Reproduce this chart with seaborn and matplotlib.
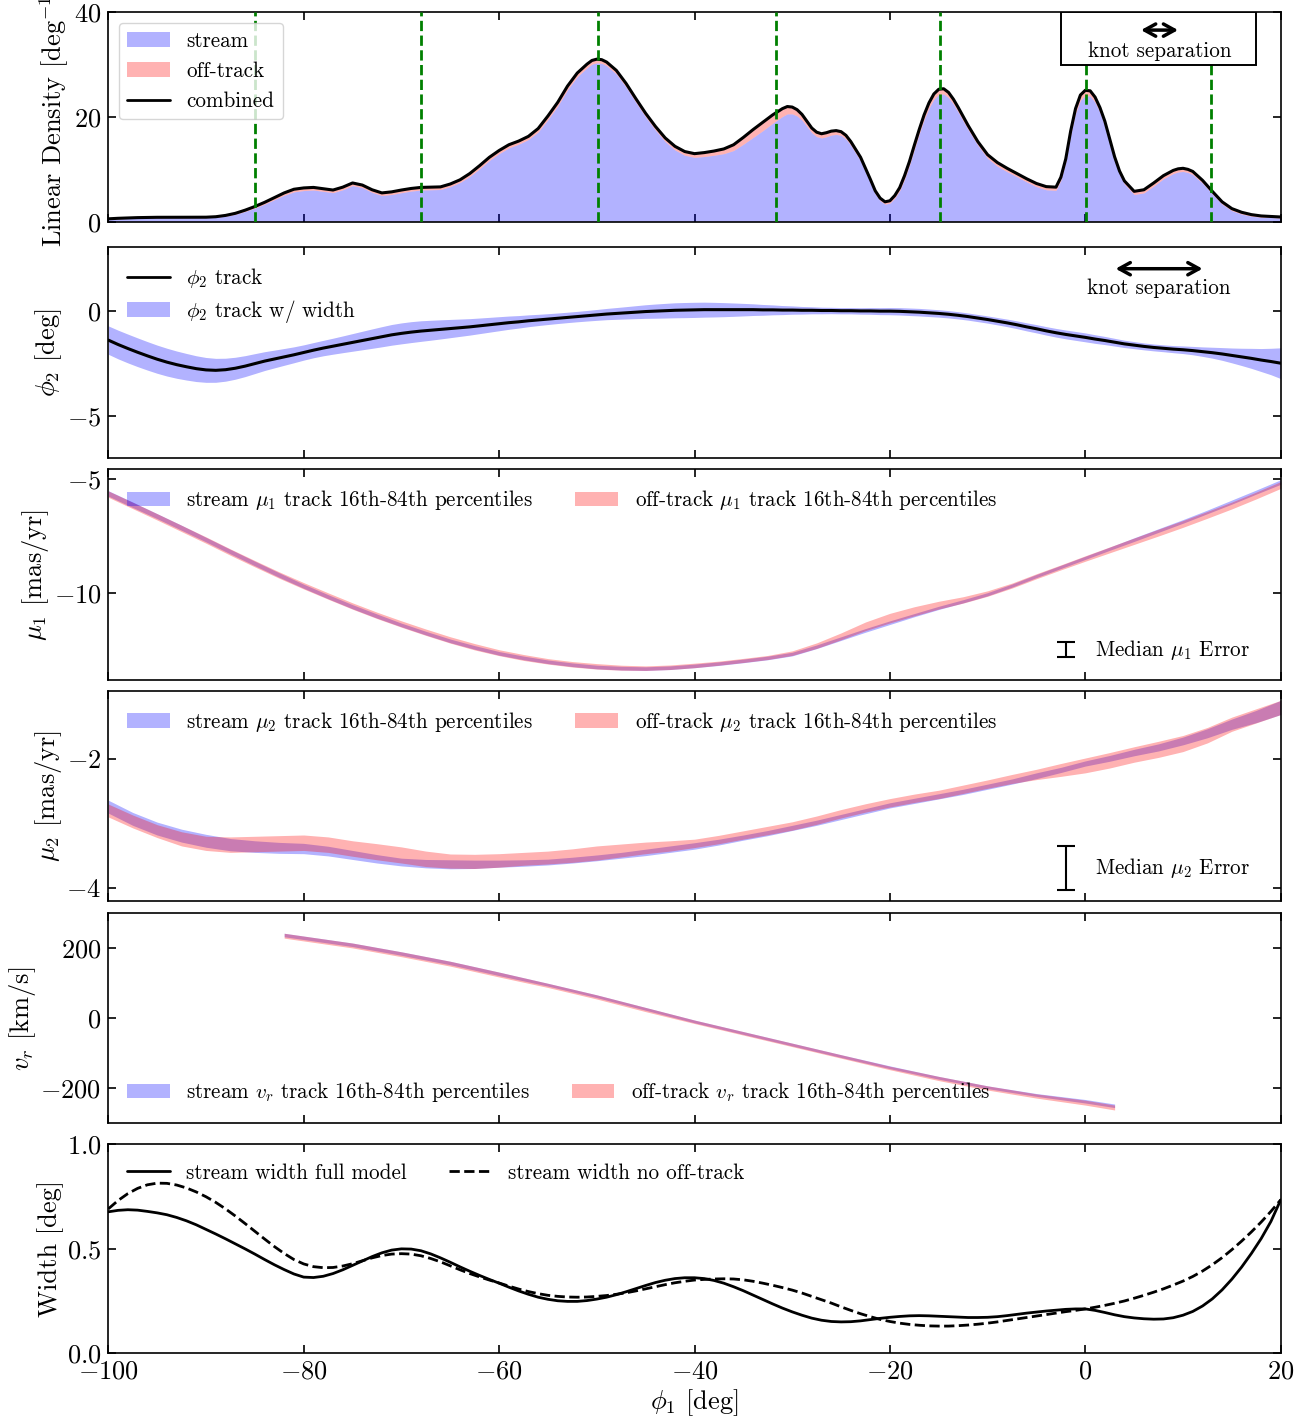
import numpy as np
import matplotlib
matplotlib.use("Agg")
import matplotlib.pyplot as plt
import seaborn as sns
from matplotlib.patches import Patch, Rectangle
from matplotlib.lines import Line2D
from matplotlib.ticker import MultipleLocator

# ---------------------------------------------------------------- data
# linear density (finer sampling around the peaks)
phi1_dens = [
    -100, -99, -98, -97, -96, -95, -94, -93, -92, -91,
    -90, -89, -88, -87, -86, -85, -84, -83, -82, -81,
    -80, -79, -78, -77, -76, -75, -74, -73, -72, -71,
    -70, -69, -68, -67, -66, -65, -64, -63, -62, -61,
    -60, -59, -58, -57, -56, -55, -54, -53, -52,
    -51, -50.5, -50, -49.5, -49,
    -48, -47, -46, -45, -44, -43, -42, -41, -40, -39, -38, -37, -36, -35, -34, -33, -32,
    -31, -30.5, -30, -29.5, -29, -28.5, -28, -27.5, -27, -26.5, -26, -25.5, -25, -24.5, -24,
    -23, -22,
    -21.5, -21, -20.5, -20, -19.5, -19, -18.5, -18, -17.5, -17, -16.5, -16, -15.5, -15,
    -14.5, -14, -13.5, -13,
    -12, -11, -10, -9, -8, -7, -6, -5, -4, -3,
    -2.5, -2, -1.5, -1, -0.5, 0, 0.5, 1, 1.5, 2, 2.5, 3, 3.5, 4,
    5, 6, 7, 8, 9,
    9.5, 10, 10.5, 11,
    12, 13, 14, 15, 16, 17, 18, 19, 20,
]
dens_combined = [
    0.55, 0.65, 0.72, 0.78, 0.82, 0.84, 0.85, 0.85, 0.85, 0.85,
    0.86, 0.95, 1.2, 1.6, 2.2, 2.9, 3.7, 4.6, 5.5, 6.2,
    6.45, 6.55, 6.3, 6.05, 6.6, 7.4, 7.0, 6.1, 5.5, 5.7,
    6.05, 6.35, 6.55, 6.6, 6.65, 7.2, 8.0, 9.2, 10.7, 12.3,
    13.6, 14.7, 15.4, 16.3, 17.8, 20.2, 22.8, 25.9, 28.4,
    30.1, 30.8, 31.05, 30.95, 30.5,
    28.9, 26.4, 23.5, 20.7, 18.2, 16.0, 14.4, 13.4, 13.0, 13.2, 13.5, 13.9, 14.7, 16.1, 17.6, 19.0, 20.4,
    21.6, 22.0, 21.9, 21.4, 20.5, 19.2, 17.9, 17.1, 16.8, 17.0, 17.3, 17.4, 17.2, 16.5, 15.3,
    12.3, 8.1,
    5.9, 4.5, 3.8, 4.0, 5.0, 6.5, 8.8, 11.5, 14.6, 17.6, 20.4, 22.7, 24.4, 25.3,
    25.4, 24.7, 23.4, 21.8,
    18.4, 15.3, 12.8, 11.3, 10.2, 9.2, 8.2, 7.3, 6.7, 6.6,
    8.5, 12.0, 17.3, 21.6, 24.2, 25.1, 25.0, 23.8, 21.8, 19.2, 15.8, 12.4, 9.7, 7.8,
    5.8, 6.1, 7.4, 8.8, 9.8,
    10.1, 10.2, 10.0, 9.6,
    7.9, 5.8, 3.8, 2.5, 1.8, 1.35, 1.1, 1.0, 0.9,
]
dens_offtrack = [
    0.1, 0.1, 0.1, 0.1, 0.1, 0.1, 0.1, 0.1, 0.1, 0.1,
    0.1, 0.12, 0.15, 0.2, 0.25, 0.3, 0.35, 0.4, 0.45, 0.5,
    0.5, 0.5, 0.5, 0.5, 0.5, 0.5, 0.5, 0.5, 0.5, 0.5,
    0.5, 0.5, 0.5, 0.5, 0.5, 0.5, 0.5, 0.55, 0.6, 0.6,
    0.6, 0.6, 0.6, 0.6, 0.65, 0.7, 0.7, 0.7, 0.7,
    0.7, 0.7, 0.7, 0.7, 0.7,
    0.7, 0.7, 0.7, 0.7, 0.7, 0.7, 0.7, 0.7, 0.7, 0.75, 0.8, 0.9, 1.1, 1.3, 1.5, 1.6, 1.6,
    1.5, 1.4, 1.3, 1.2, 1.1, 1.0, 0.9, 0.85, 0.8, 0.78, 0.75, 0.72, 0.7, 0.7, 0.7,
    0.7, 0.7,
    0.6, 0.5, 0.45, 0.45, 0.5, 0.6, 0.7, 0.75, 0.8, 0.85, 0.9, 1.0, 1.0, 1.0,
    1.0, 1.0, 0.95, 0.9,
    0.8, 0.7, 0.7, 0.7, 0.65, 0.6, 0.6, 0.6, 0.6, 0.6,
    0.6, 0.65, 0.75, 0.9, 1.0, 1.0, 1.0, 1.0, 0.95, 0.9, 0.8, 0.7, 0.65, 0.6,
    0.6, 0.6, 0.6, 0.6, 0.6,
    0.6, 0.6, 0.6, 0.6,
    0.55, 0.5, 0.45, 0.4, 0.35, 0.3, 0.25, 0.2, 0.2,
]
knots = [-85.0, -68.0, -49.9, -31.7, -14.9, 0.1, 12.9]

# phi2 track and stream width, every 1 deg from -100 to 20
phi1_track = np.arange(-100, 21, 1)
phi2_track = [
    -1.40, -1.61, -1.80, -1.98, -2.15, -2.31, -2.45, -2.57, -2.67, -2.76,
    -2.82, -2.84, -2.81, -2.74, -2.64, -2.52, -2.40, -2.30, -2.20, -2.10,
    -1.99, -1.88, -1.78, -1.69, -1.60, -1.51, -1.42, -1.33, -1.24, -1.15,
    -1.08, -1.02, -0.97, -0.93, -0.89, -0.85, -0.81, -0.77, -0.72, -0.67,
    -0.62, -0.57, -0.53, -0.48, -0.44, -0.40, -0.36, -0.32, -0.28, -0.24,
    -0.20, -0.16, -0.13, -0.10, -0.07, -0.04, -0.02, 0.00, 0.02, 0.03,
    0.04, 0.05, 0.05, 0.05, 0.05, 0.05, 0.05, 0.04, 0.04, 0.03,
    0.03, 0.02, 0.02, 0.01, 0.01, 0.00, 0.00, -0.01, -0.01, -0.02,
    -0.02, -0.03, -0.05, -0.07, -0.10, -0.13, -0.17, -0.22, -0.28, -0.35,
    -0.42, -0.50, -0.58, -0.67, -0.77, -0.86, -0.96, -1.05, -1.13, -1.20,
    -1.27, -1.35, -1.42, -1.50, -1.58, -1.64, -1.70, -1.75, -1.79, -1.83,
    -1.86, -1.90, -1.95, -2.00, -2.06, -2.13, -2.20, -2.27, -2.35, -2.42,
    -2.50,
]
width_full = [
    0.676, 0.683, 0.686, 0.684, 0.678, 0.671, 0.662, 0.649, 0.633, 0.614,
    0.592, 0.570, 0.547, 0.523, 0.499, 0.474, 0.448, 0.423, 0.400, 0.379,
    0.364, 0.362, 0.368, 0.381, 0.399, 0.420, 0.441, 0.462, 0.480, 0.493,
    0.499, 0.498, 0.490, 0.475, 0.456, 0.435, 0.413, 0.392, 0.372, 0.353,
    0.335, 0.316, 0.298, 0.282, 0.268, 0.258, 0.251, 0.248, 0.248, 0.252,
    0.259, 0.268, 0.280, 0.294, 0.309, 0.324, 0.338, 0.349, 0.357, 0.361,
    0.361, 0.357, 0.348, 0.335, 0.318, 0.299, 0.278, 0.257, 0.236, 0.216,
    0.198, 0.182, 0.168, 0.158, 0.152, 0.150, 0.151, 0.155, 0.161, 0.167,
    0.172, 0.176, 0.179, 0.180, 0.179, 0.177, 0.175, 0.173, 0.171, 0.171,
    0.172, 0.175, 0.180, 0.186, 0.192, 0.197, 0.202, 0.206, 0.210, 0.212,
    0.212, 0.205, 0.195, 0.184, 0.175, 0.169, 0.165, 0.163, 0.164, 0.170,
    0.182, 0.200, 0.226, 0.260, 0.303, 0.354, 0.412, 0.477, 0.548, 0.630,
    0.733,
]
width_no_offtrack = [
    0.690, 0.730, 0.763, 0.788, 0.805, 0.813, 0.812, 0.804, 0.790, 0.771,
    0.748, 0.721, 0.690, 0.656, 0.620, 0.583, 0.546, 0.510, 0.477, 0.448,
    0.427, 0.414, 0.409, 0.410, 0.417, 0.428, 0.442, 0.456, 0.467, 0.474,
    0.476, 0.474, 0.466, 0.453, 0.437, 0.418, 0.399, 0.381, 0.365, 0.350,
    0.336, 0.321, 0.307, 0.295, 0.285, 0.277, 0.272, 0.269, 0.268, 0.269,
    0.272, 0.276, 0.282, 0.289, 0.298, 0.308, 0.318, 0.328, 0.337, 0.344,
    0.350, 0.353, 0.355, 0.356, 0.355, 0.351, 0.344, 0.335, 0.325, 0.314,
    0.302, 0.288, 0.272, 0.256, 0.240, 0.222, 0.205, 0.189, 0.175, 0.162,
    0.152, 0.144, 0.138, 0.134, 0.131, 0.130, 0.130, 0.132, 0.135, 0.139,
    0.144, 0.150, 0.157, 0.164, 0.171, 0.178, 0.185, 0.192, 0.199, 0.205,
    0.212, 0.220, 0.229, 0.239, 0.250, 0.263, 0.277, 0.292, 0.308, 0.326,
    0.345, 0.367, 0.393, 0.423, 0.457, 0.495, 0.536, 0.580, 0.627, 0.678,
    0.733,
]

# proper-motion tracks (median and half 16th-84th spread), every 2.5 deg
phi1_pm = np.arange(-100, 20.1, 2.5)
mu1_stream = [
    -5.62, -6.12, -6.62, -7.13, -7.65, -8.18, -8.70, -9.21, -9.70, -10.16,
    -10.60, -11.01, -11.40, -11.76, -12.10, -12.39, -12.65, -12.85, -13.02, -13.15,
    -13.25, -13.30, -13.32, -13.28, -13.20, -13.10, -12.98, -12.85, -12.68, -12.36,
    -12.00, -11.64, -11.30, -10.97, -10.65, -10.36, -10.05, -9.67, -9.25, -8.85,
    -8.45, -8.05, -7.65, -7.25, -6.85, -6.43, -6.00, -5.56, -5.12,
]
mu1_stream_err = [
    0.12, 0.12, 0.11, 0.11, 0.10, 0.10, 0.10, 0.10, 0.09,
    0.09, 0.09, 0.09, 0.08, 0.08, 0.08, 0.08, 0.08, 0.08, 0.08, 0.08, 0.08,
    0.08, 0.08, 0.08, 0.08, 0.08, 0.08, 0.08, 0.08, 0.08, 0.08, 0.08, 0.08,
    0.07, 0.07, 0.07, 0.07, 0.07, 0.07, 0.07, 0.07, 0.07, 0.08, 0.08, 0.08, 0.08,
    0.09, 0.09, 0.10,
]
mu1_off = [
    -5.65, -6.15, -6.65, -7.16, -7.67, -8.20, -8.71, -9.21, -9.68, -10.13,
    -10.57, -10.98, -11.36, -11.72, -12.06, -12.36, -12.62, -12.83, -13.00, -13.13,
    -13.22, -13.28, -13.30, -13.26, -13.18, -13.08, -12.96, -12.83, -12.64, -12.31,
    -11.90, -11.46, -11.10, -10.80, -10.53, -10.30, -10.02, -9.67, -9.26, -8.87,
    -8.48, -8.10, -7.72, -7.34, -6.96, -6.56, -6.15, -5.71, -5.25,
]
mu1_off_err = [
    0.14, 0.14, 0.14, 0.14, 0.14, 0.14, 0.14, 0.14, 0.14,
    0.14, 0.14, 0.14, 0.14, 0.14, 0.14, 0.14, 0.13, 0.13, 0.12, 0.12, 0.12,
    0.11, 0.10, 0.10, 0.10, 0.09, 0.09, 0.09, 0.10, 0.12, 0.15, 0.19, 0.21,
    0.20, 0.17, 0.14, 0.12, 0.11, 0.11, 0.11, 0.12, 0.13, 0.14, 0.15, 0.15, 0.15,
    0.15, 0.15, 0.15,
]

mu2_stream = [
    -2.74, -2.93, -3.08, -3.19, -3.27, -3.33, -3.36, -3.38, -3.39, -3.43,
    -3.49, -3.55, -3.60, -3.625, -3.635, -3.635, -3.625, -3.615, -3.60, -3.57,
    -3.535, -3.495, -3.45, -3.40, -3.35, -3.29, -3.22, -3.15, -3.07, -2.99,
    -2.90, -2.81, -2.72, -2.65, -2.58, -2.51, -2.43, -2.35, -2.26, -2.17,
    -2.07, -1.99, -1.90, -1.82, -1.72, -1.60, -1.46, -1.34, -1.20,
]
mu2_stream_err = [
    0.10, 0.10, 0.10, 0.10, 0.10, 0.095, 0.09, 0.085, 0.08, 0.075,
    0.07, 0.065, 0.06, 0.065, 0.07, 0.065, 0.055, 0.05, 0.045, 0.045,
    0.045, 0.045, 0.05, 0.05, 0.05, 0.045, 0.04, 0.04, 0.04, 0.04,
    0.04, 0.04, 0.04, 0.04, 0.04, 0.04, 0.04, 0.04, 0.045, 0.04,
    0.04, 0.045, 0.05, 0.055, 0.06, 0.07, 0.08, 0.095, 0.11,
]
mu2_off = [
    -2.80, -2.97, -3.12, -3.24, -3.31, -3.33, -3.32, -3.31, -3.30, -3.33,
    -3.39, -3.44, -3.49, -3.55, -3.585, -3.59, -3.575, -3.55, -3.53, -3.50,
    -3.46, -3.42, -3.38, -3.35, -3.31, -3.25, -3.18, -3.11, -3.04, -2.95,
    -2.85, -2.76, -2.68, -2.61, -2.55, -2.47, -2.39, -2.31, -2.24, -2.17,
    -2.10, -2.02, -1.93, -1.85, -1.76, -1.63, -1.46, -1.33, -1.20,
]
mu2_off_err = [
    0.10, 0.10, 0.10, 0.11, 0.11, 0.12, 0.12, 0.12, 0.12, 0.12,
    0.12, 0.125, 0.125, 0.12, 0.11, 0.11, 0.105, 0.10, 0.10, 0.105,
    0.11, 0.10, 0.09, 0.08, 0.065, 0.065, 0.065, 0.065, 0.065, 0.065,
    0.065, 0.065, 0.065, 0.065, 0.065, 0.065, 0.065, 0.07, 0.08, 0.10,
    0.115, 0.12, 0.12, 0.125, 0.125, 0.12, 0.11, 0.11, 0.11,
]

# radial velocity track
phi1_vr = [-82, -80, -75, -70, -65, -60, -55, -50, -45, -40,
           -35, -30, -25, -20, -15, -10, -5, 0, 3]
vr_stream = [238, 230, 210, 185, 158, 127, 96, 63, 27, -9,
             -42, -75, -108, -140, -170, -197, -219, -237, -250]
vr_stream_err = [5, 5, 5, 5, 5, 5, 4, 4, 4, 4, 4, 4, 4, 4, 4, 4, 4, 5, 5]
vr_off = [236, 228, 208, 183, 156, 125, 94, 61, 25, -10,
          -43, -76, -109, -142, -172, -199, -222, -241, -255]
vr_off_err = [7, 7, 7, 7, 7, 7, 6, 6, 6, 5, 5, 5, 5, 5, 6, 6, 6, 7, 7]

# median observational errors
mu1_med_err = 0.33
mu2_med_err = 0.34

# ---------------------------------------------------------------- style
sns.set_theme(style="ticks")
plt.rcParams.update({
    "font.family": "serif",
    "font.serif": ["cmr10"],
    "mathtext.fontset": "cm",
    "axes.formatter.use_mathtext": True,
    "axes.unicode_minus": True,
    "font.size": 19,
    "axes.labelsize": 19,
    "axes.labelpad": 2.0,
    "xtick.labelsize": 19,
    "ytick.labelsize": 19,
    "legend.fontsize": 15.2,
    "axes.linewidth": 1.2,
    "axes.edgecolor": "black",
    "axes.labelcolor": "black",
    "text.color": "black",
    "xtick.color": "black",
    "ytick.color": "black",
    "xtick.direction": "in",
    "ytick.direction": "in",
    "xtick.top": True,
    "ytick.right": True,
    "xtick.major.size": 5.5,
    "ytick.major.size": 5.5,
    "xtick.major.width": 1.2,
    "ytick.major.width": 1.2,
    "xtick.major.pad": 5,
    "ytick.major.pad": 5,
    "xtick.minor.visible": False,
    "ytick.minor.visible": False,
    "legend.frameon": False,
})

W, H = 1315, 1421
fig = plt.figure(figsize=(W / 100, H / 100), dpi=100)

left_px, right_px = 108.3, 1280.7
panel_px = [(12.3, 221.7), (247.3, 458.3), (469.3, 680.0),
            (690.7, 900.7), (913.3, 1123.3), (1144.0, 1353.3)]
axes = []
for i, (t, b) in enumerate(panel_px):
    rect = [left_px / W, 1 - b / H, (right_px - left_px) / W, (b - t) / H]
    if i == 0:
        ax = fig.add_axes(rect)
    else:
        ax = fig.add_axes(rect, sharex=axes[0])
    axes.append(ax)

blue_fill = dict(color="blue", alpha=0.3, lw=0)
red_fill = dict(color="red", alpha=0.3, lw=0)


def blue_patch(label):
    return Patch(facecolor="blue", edgecolor="none", alpha=0.3, label=label)


def red_patch(label):
    return Patch(facecolor="red", edgecolor="none", alpha=0.3, label=label)


arrow_props = dict(arrowstyle="<->,head_length=0.4,head_width=0.22",
                   lw=2.5, color="black", mutation_scale=20, shrinkA=0, shrinkB=0)

# ---- panel 1: linear density
ax = axes[0]
comb = np.array(dens_combined)
stream = comb - np.array(dens_offtrack)
ax.fill_between(phi1_dens, 0, stream, **blue_fill)
ax.fill_between(phi1_dens, stream, comb, **red_fill)
sns.lineplot(x=phi1_dens, y=comb, ax=ax, color="black", linewidth=2.2, legend=False)
for k in knots:
    ax.axvline(k, color="green", ls="--", lw=2, zorder=4)
ax.set_ylim(0, 40)
ax.yaxis.set_major_locator(MultipleLocator(20))
ax.set_ylabel(r"Linear Density [deg$^{-1}$]")
ax.legend(handles=[blue_patch("stream"), red_patch("off-track"),
                   Line2D([], [], color="black", lw=2, label="combined")],
          loc="upper left", frameon=True, framealpha=0.8, edgecolor="0.8", fancybox=True)
ax.add_patch(Rectangle((0.8126, 0.748), 0.1664, 0.252, transform=ax.transAxes,
                       facecolor="white", edgecolor="black", lw=1.4, zorder=5))
ax.annotate("", xy=(9.5, 36.6), xytext=(5.7, 36.6), arrowprops=arrow_props, zorder=6)
ax.text(7.6, 32.6, "knot separation", ha="center", va="center", fontsize=15.2, zorder=6)

# ---- panel 2: phi2 track
ax = axes[1]
trk = np.array(phi2_track)
wid = np.array(width_full)
ax.fill_between(phi1_track, trk - wid, trk + wid, **blue_fill)
sns.lineplot(x=phi1_track, y=trk, ax=ax, color="black", linewidth=2.2, legend=False)
ax.set_ylim(-7.03, 3.02)
ax.yaxis.set_major_locator(MultipleLocator(5))
ax.set_ylabel(r"$\phi_2$ [deg]")
ax.legend(handles=[Line2D([], [], color="black", lw=2, label=r"$\phi_2$ track"),
                   blue_patch(r"$\phi_2$ track w/ width")],
          loc="upper left", labelspacing=0.35)
ax.annotate("", xy=(12.0, 2.0), xytext=(3.1, 2.0), arrowprops=arrow_props)
ax.text(7.5, 1.06, "knot separation", ha="center", va="center", fontsize=15.2)


def pm_panel(ax, x, s, se, o, oe, name):
    s, se, o, oe = map(np.asarray, (s, se, o, oe))
    ax.fill_between(x, s - se, s + se, **blue_fill)
    ax.fill_between(x, o - oe, o + oe, **red_fill)
    return [blue_patch(f"stream {name} track 16th-84th percentiles"),
            red_patch(f"off-track {name} track 16th-84th percentiles")]


# ---- panel 3: mu1
ax = axes[2]
h = pm_panel(ax, phi1_pm, mu1_stream, mu1_stream_err, mu1_off, mu1_off_err, r"$\mu_1$")
ax.legend(handles=h, loc="upper left", ncol=2)
ax.errorbar([-2.0], [-12.5], yerr=[mu1_med_err], fmt="none", ecolor="black",
            elinewidth=1.5, capsize=6.5, capthick=1.5)
ax.text(1.0, -12.5, r"Median $\mu_1$ Error", ha="left", va="center", fontsize=15.2)
ax.set_ylim(-13.82, -4.56)
ax.yaxis.set_major_locator(MultipleLocator(5))
ax.set_ylabel(r"$\mu_1$ [mas/yr]")

# ---- panel 4: mu2
ax = axes[3]
h = pm_panel(ax, phi1_pm, mu2_stream, mu2_stream_err, mu2_off, mu2_off_err, r"$\mu_2$")
ax.legend(handles=h, loc="upper left", ncol=2)
ax.errorbar([-2.0], [-3.69], yerr=[mu2_med_err], fmt="none", ecolor="black",
            elinewidth=1.5, capsize=6.5, capthick=1.5)
ax.text(1.0, -3.69, r"Median $\mu_2$ Error", ha="left", va="center", fontsize=15.2)
ax.set_ylim(-4.2, -0.94)
ax.yaxis.set_major_locator(MultipleLocator(2))
ax.set_ylabel(r"$\mu_2$ [mas/yr]")

# ---- panel 5: radial velocity
ax = axes[4]
h = pm_panel(ax, phi1_vr, vr_stream, vr_stream_err, vr_off, vr_off_err, r"$v_r$")
ax.legend(handles=h, loc="lower left", ncol=2)
ax.set_ylim(-300, 300)
ax.yaxis.set_major_locator(MultipleLocator(200))
ax.set_ylabel(r"$v_r$ [km/s]")

# ---- panel 6: width
ax = axes[5]
sns.lineplot(x=phi1_track, y=width_full, ax=ax, color="black", linewidth=2, legend=False)
sns.lineplot(x=phi1_track, y=width_no_offtrack, ax=ax, color="black", linewidth=2,
             linestyle="--", legend=False)
ax.legend(handles=[Line2D([], [], color="black", lw=2, label="stream width full model"),
                   Line2D([], [], color="black", lw=2, ls="--", label="stream width no off-track")],
          loc="upper left", ncol=2)
ax.set_ylim(0, 1)
ax.yaxis.set_major_locator(MultipleLocator(0.5))
ax.set_ylabel("Width [deg]")
ax.set_xlabel(r"$\phi_1$ [deg]")

for a in axes:
    a.set_xlim(-100, 20)
    a.xaxis.set_major_locator(MultipleLocator(20))
for a in axes[:-1]:
    a.tick_params(labelbottom=False)
    a.set_xlabel("")

fig.savefig("out.png", dpi=100)
